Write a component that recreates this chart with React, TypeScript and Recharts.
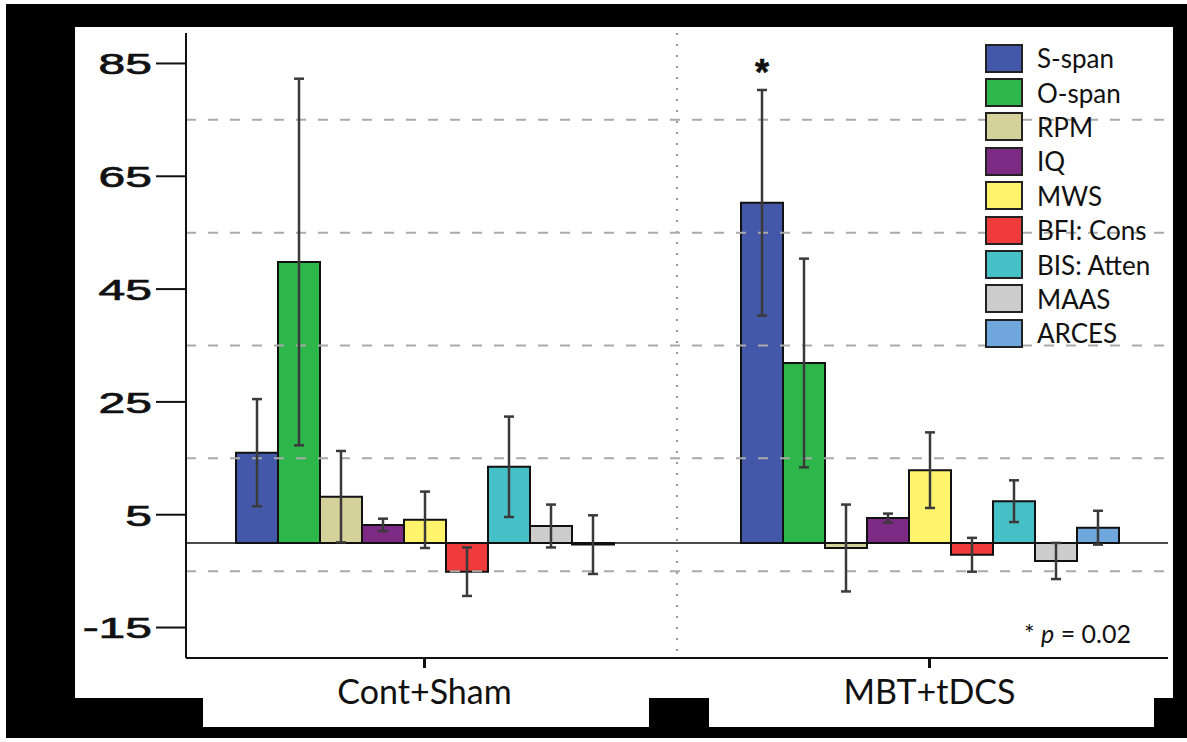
import React from "react";
import {
  BarChart,
  Bar,
  XAxis,
  YAxis,
  ErrorBar,
  ReferenceLine,
  CartesianGrid,
  LabelList,
} from "recharts";

const groups = ["Cont+Sham", "MBT+tDCS"];
const measures = ["S-span", "O-span", "RPM", "IQ", "MWS", "BFI: Cons", "BIS: Atten", "MAAS", "ARCES"];
const colors = ["#4358A8", "#2DB64A", "#D5D19A", "#7D2A84", "#FFF46C", "#EF3B3C", "#45C0C7", "#CCCCCC", "#6FA6DC"];

const sSpan = [16.0, 60.3];
const sSpanErr = [9.5, 20.0];
const oSpan = [49.8, 31.9];
const oSpanErr = [32.5, 18.5];
const rpm = [8.2, -0.9];
const rpmErr = [8.1, 7.7];
const iq = [3.2, 4.4];
const iqErr = [1.1, 0.8];
const mws = [4.1, 12.9];
const mwsErr = [5.0, 6.7];
const bfiCons = [-5.1, -2.1];
const bfiConsErr = [4.3, 3.0];
const bisAtten = [13.5, 7.4];
const bisAttenErr = [8.9, 3.7];
const maas = [3.0, -3.2];
const maasErr = [3.8, 3.2];
const arces = [-0.3, 2.7];
const arcesErr = [5.2, 3.0];
const significance = ["", "*"];

const yTicks = [85, 65, 45, 25, 5, -15];
const gridValues = [75, 55, 35, 15, -5];
const yDomain = [-20.4, 90.4];

const seriesValues = [sSpan, oSpan, rpm, iq, mws, bfiCons, bisAtten, maas, arces];
const seriesErrors = [sSpanErr, oSpanErr, rpmErr, iqErr, mwsErr, bfiConsErr, bisAttenErr, maasErr, arcesErr];

const data = groups.map((group, i) => {
  const row: Record<string, string | number> = { group };
  measures.forEach((m, k) => {
    row["v" + k] = seriesValues[k][i];
    row["e" + k] = seriesErrors[k][i];
  });
  return row;
});

const textFont = "Lato, 'Open Sans', sans-serif";

const YTick = ({ x, y, payload }: any) => (
  <g transform={`translate(${x},${y})`}>
    <text
      x={0}
      y={0}
      dy="0.36em"
      textAnchor="end"
      transform="scale(1.6,1)"
      fontSize={30}
      fill="#111"
      stroke="#111"
      strokeWidth={0.7}
      fontFamily="'Liberation Sans', Arial, sans-serif"
    >
      {payload.value}
    </text>
  </g>
);

// star above the S-span error bar where the change is significant
const Asterisk = (props: any) => {
  const { x, y, width, height, index } = props;
  const mark = significance[index];
  if (!mark) return null;
  const pxPerUnit = height / sSpan[index];
  const top = y - sSpanErr[index] * pxPerUnit;
  return (
    <text
      x={x + width / 2}
      y={top - 5}
      textAnchor="middle"
      fontSize={36}
      fontWeight="bold"
      fill="#111"
      stroke="#111"
      strokeWidth={0.6}
      fontFamily="'Liberation Sans', Arial, sans-serif"
    >
      {mark}
    </text>
  );
};

export default function App() {
  return (
    <div
      style={{
        position: "absolute",
        left: 0,
        top: 0,
        width: 1187,
        height: 742,
        background: "#fff",
        overflow: "hidden",
      }}
    >
      {/* black scan frame */}
      <div style={{ position: "absolute", left: 6, top: 4, width: 1181, height: 734, background: "#000" }} />
      <div style={{ position: "absolute", left: 75, top: 27, width: 1098, height: 671, background: "#fff" }} />
      <div style={{ position: "absolute", left: 203, top: 697, width: 446, height: 30, background: "#fff" }} />
      <div style={{ position: "absolute", left: 709, top: 697, width: 445, height: 30, background: "#fff" }} />

      <div style={{ position: "absolute", left: 0, top: 0 }}>
        <BarChart
          width={1187}
          height={742}
          data={data}
          margin={{ top: 33, right: 19, bottom: 24, left: 76 }}
          barGap={0}
          barSize={42}
        >
          <CartesianGrid
            horizontal={false}
            stroke="#999"
            strokeDasharray="2 9"
            strokeWidth={2}
            verticalCoordinatesGenerator={({ offset }: any) => [offset.left + offset.width / 2]}
          />
          {gridValues.map((v) => (
            <ReferenceLine key={v} y={v} stroke="#aaa" strokeWidth={2} strokeDasharray="10 12" />
          ))}
          <XAxis
            dataKey="group"
            padding={{ left: -14, right: -14 }}
            height={60}
            tickSize={10}
            tickMargin={12}
            axisLine={{ stroke: "#111", strokeWidth: 2 }}
            tickLine={{ stroke: "#111", strokeWidth: 3 }}
            tick={{ fontSize: 34, fill: "#111", fontFamily: textFont }}
          />
          <XAxis
            xAxisId="top"
            dataKey="group"
            orientation="top"
            height={0}
            tick={false}
            tickLine={false}
            axisLine={{ stroke: "#666", strokeWidth: 2 }}
          />
          <YAxis
            type="number"
            domain={yDomain}
            ticks={yTicks}
            interval={0}
            allowDataOverflow
            width={110}
            tickSize={30}
            tickMargin={4}
            axisLine={{ stroke: "#111", strokeWidth: 2 }}
            tickLine={{ stroke: "#111", strokeWidth: 2 }}
            tick={<YTick />}
          />
          <YAxis
            yAxisId="right"
            orientation="right"
            type="number"
            domain={yDomain}
            width={0}
            tick={false}
            tickLine={false}
            axisLine={{ stroke: "#666", strokeWidth: 2 }}
          />
          <ReferenceLine y={0} stroke="#111" strokeWidth={1.5} />
          {measures.map((m, k) => (
            <Bar
              key={m}
              dataKey={"v" + k}
              name={m}
              fill={colors[k]}
              stroke="#111"
              strokeWidth={2}
              isAnimationActive={false}
            >
              <ErrorBar dataKey={"e" + k} width={5} stroke="#3a3a3a" strokeWidth={2.5} />
              {k === 0 && <LabelList dataKey={"v" + k} content={<Asterisk />} />}
            </Bar>
          ))}
        </BarChart>
      </div>

      {/* legend */}
      <div style={{ position: "absolute", left: 985, top: 41, fontFamily: textFont }}>
        {measures.map((m, k) => (
          <div key={m} style={{ display: "flex", alignItems: "center", height: 34.4 }}>
            <span
              style={{
                display: "inline-block",
                width: 34,
                height: 25,
                background: colors[k],
                border: "2px solid #222",
              }}
            />
            <span style={{ marginLeft: 14, fontSize: 26, color: "#111", whiteSpace: "nowrap" }}>{m}</span>
          </div>
        ))}
      </div>

      <div
        style={{
          position: "absolute",
          left: 1024,
          top: 618,
          fontFamily: textFont,
          fontSize: 25,
          color: "#111",
          whiteSpace: "nowrap",
        }}
      >
        * <i>p</i> = 0.02
      </div>
    </div>
  );
}
